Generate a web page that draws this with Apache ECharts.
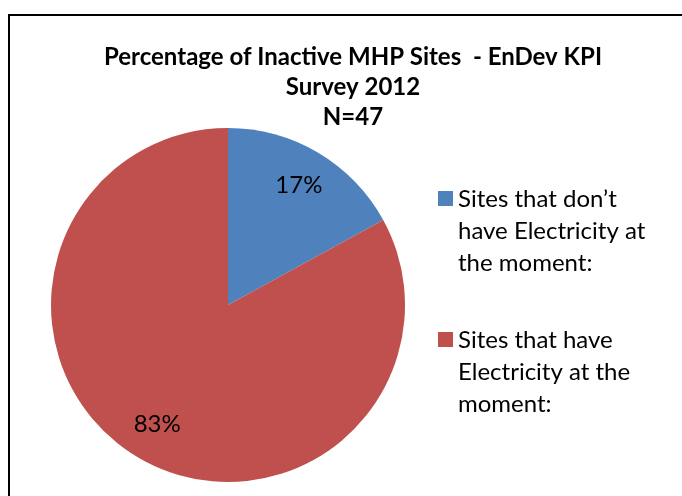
<!DOCTYPE html>
<html>
<head>
<meta charset="utf-8">
<script src="https://cdn.jsdelivr.net/npm/echarts@6/dist/echarts.min.js"></script>
<style>
  html, body { margin: 0; padding: 0; background: #fff; }
  #chart { width: 682px; height: 496px; }
</style>
</head>
<body>
<div id="chart"></div>
<script>
    // data (N=47)
    let categories = ['Sites that don’t have Electricity at the moment:', 'Sites that have Electricity at the moment:']
    let counts = [8, 39]
    let colors = ['#4F81BD', '#C0504D']
    let titleLines = ['Percentage of Inactive MHP Sites  - EnDev KPI', 'Survey 2012', 'N=47']

    let font = 'Lato'
    let seriesData = []
    for (let i = 0; i < categories.length; i++) {
        seriesData.push({
            name: categories[i],
            value: counts[i],
            itemStyle: { color: colors[i] }
        })
    }

    let myChart = echarts.init(document.getElementById('chart'))
    const option = {
        animation: false,
        title: {
            text: titleLines.join('\n'),
            left: 348,
            top: 37,
            textAlign: 'center',
            textStyle: {
                fontFamily: font,
                fontWeight: 'bold',
                fontSize: 24,
                lineHeight: 30,
                color: '#000'
            }
        },
        legend: {
            orient: 'vertical',
            left: 433,
            top: 178,
            itemWidth: 15,
            itemHeight: 96,
            itemGap: 45,
            // square sits next to the first text line, not the middle one
            icon: 'path://M0,0 M0,8H15V23H0Z M0,96',
            data: categories,
            textStyle: {
                fontFamily: font,
                fontSize: 24,
                lineHeight: 32,
                color: '#000',
                width: 215,
                overflow: 'break'
            }
        },
        graphic: [{
            type: 'rect',
            shape: { x: 9, y: 15, width: 700, height: 500 },
            style: { fill: 'none', stroke: '#000', lineWidth: 2 },
            silent: true
        }],
        series: [
            {
                name: 'sites',
                type: 'pie',
                center: [228, 305],
                radius: [0, 177],
                startAngle: 90,
                clockwise: true,
                label: { show: false },
                labelLine: { show: false },
                emphasis: { disabled: true },
                data: seriesData
            },
            {
                // transparent ring just to place the percentage labels
                name: 'labels',
                type: 'pie',
                center: [228, 305],
                radius: [95, 177],
                startAngle: 90,
                clockwise: true,
                silent: true,
                itemStyle: { color: 'rgba(0,0,0,0)' },
                label: {
                    show: true,
                    position: 'inside',
                    formatter: function (p) { return Math.round(p.percent) + '%' },
                    fontFamily: font,
                    fontSize: 24,
                    color: '#000'
                },
                labelLine: { show: false },
                emphasis: { disabled: true },
                legendHoverLink: false,
                data: counts.map(function (v, i) { return { name: 'l' + i, value: v } })
            }
        ]
    }
    myChart.setOption(option)
</script>
</body>
</html>
